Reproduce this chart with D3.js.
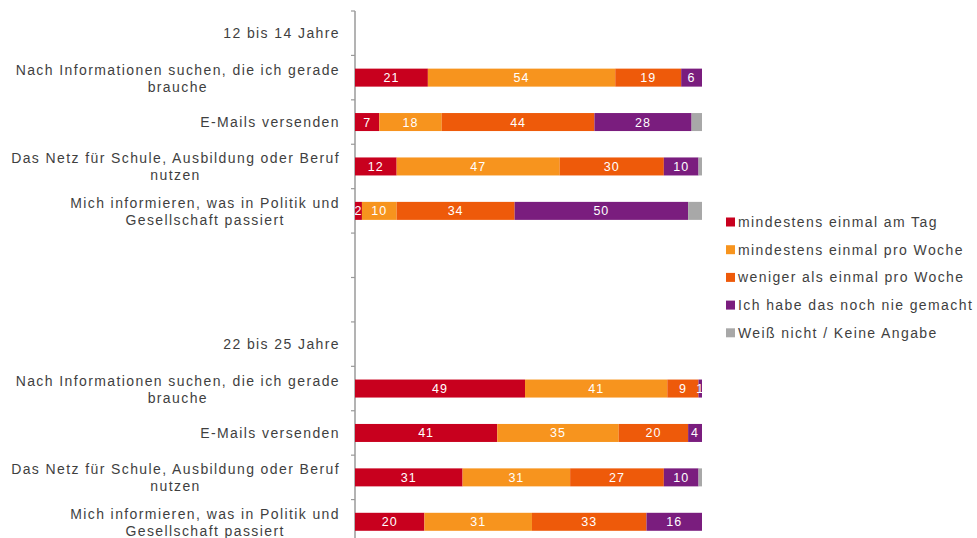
<!DOCTYPE html>
<html><head><meta charset="utf-8">
<script src="https://cdn.jsdelivr.net/npm/d3@7"></script>
<style>
body{margin:0;background:#fff;}
text{font-family:"Liberation Sans",Arial,sans-serif;}
</style></head>
<body>
<svg id="chart" width="977" height="538"></svg>
<script>
// ---- data ----
const categories = [
  "12 bis 14 Jahre",
  "Nach Informationen suchen, die ich gerade|brauche",
  "E-Mails versenden",
  "Das Netz für Schule, Ausbildung oder Beruf|nutzen",
  "Mich informieren, was in Politik und|Gesellschaft passiert",
  "",
  "",
  "22 bis 25 Jahre",
  "Nach Informationen suchen, die ich gerade|brauche",
  "E-Mails versenden",
  "Das Netz für Schule, Ausbildung oder Beruf|nutzen",
  "Mich informieren, was in Politik und|Gesellschaft passiert"
];
const seriesNames = [
  "mindestens einmal am Tag",
  "mindestens einmal pro Woche",
  "weniger als einmal pro Woche",
  "Ich habe das noch nie gemacht",
  "Weiß nicht / Keine Angabe"
];
const seriesColors = ["#c8001e", "#f7941e", "#ee5a0a", "#7a1d7e", "#a8a8a8"];
const taeglich   = [null, 21, 7, 12, 2, null, null, null, 49, 41, 31, 20];
const woechentl  = [null, 54, 18, 47, 10, null, null, null, 41, 35, 31, 31];
const seltener   = [null, 19, 44, 30, 34, null, null, null, 9, 20, 27, 33];
const nie        = [null, 6, 28, 10, 50, null, null, null, 1, 4, 10, 16];
const weissNicht = [null, 0, 3, 1, 4, null, null, null, 0, 0, 1, 0];
const series = [taeglich, woechentl, seltener, nie, weissNicht];
const labelledSeries = [0, 1, 2, 3];

// ---- layout ----
const svg = d3.select("#chart");
const slots = categories.map((c, i) => i);
const y = d3.scaleBand().domain(slots).range([11, 544]).padding(0);
const x = d3.scaleLinear().domain([0, 100]).range([355, 702]);
const barH = 18;
const textColor = "#3f3f3f";

// axis
const axisG = svg.append("g");
axisG.append("line")
  .attr("x1", x(0)).attr("x2", x(0))
  .attr("y1", y.range()[0]).attr("y2", y.range()[1])
  .attr("stroke", "#9a9a9a").attr("stroke-width", 1.5);
const tickYs = slots.map(s => y(s)).concat([y.range()[1]]);
axisG.selectAll("line.tick").data(tickYs).join("line")
  .attr("class", "tick")
  .attr("x1", x(0) - 4).attr("x2", x(0))
  .attr("y1", d => d).attr("y2", d => d)
  .attr("stroke", "#9a9a9a").attr("stroke-width", 1.2);

// category labels
const labelRight = 340;
const lab = svg.append("g");
categories.forEach((c, i) => {
  if (!c) return;
  const lines = c.split("|");
  const cy = y(i) + y.bandwidth() / 2;
  const g = lab.append("g");
  const texts = lines.map((l, k) => g.append("text")
    .text(l)
    .attr("font-size", 14)
    .attr("letter-spacing", 1.4)
    .attr("fill", textColor)
    .attr("dominant-baseline", "central")
    .attr("text-anchor", "middle")
    .attr("y", lines.length === 1 ? cy : cy - 8 + k * 17));
  const w = d3.max(texts, t => t.node().getComputedTextLength());
  texts.forEach(t => t.attr("x", labelRight - w / 2));
});

// stacked bars
const bars = svg.append("g");
slots.forEach(i => {
  if (taeglich[i] == null) return;
  let acc = 0;
  series.forEach((s, k) => {
    const v = s[i];
    const x0 = acc;
    acc += v;
    if (!v) return;
    const by = y(i) + (y.bandwidth() - barH) / 2;
    bars.append("rect")
      .attr("x", x(x0)).attr("width", x(acc) - x(x0))
      .attr("y", by).attr("height", barH)
      .attr("fill", seriesColors[k]);
    if (labelledSeries.includes(k)) {
      bars.append("text")
        .attr("x", (x(x0) + x(acc)) / 2)
        .attr("y", by + barH / 2 + 0.5)
        .attr("text-anchor", "middle")
        .attr("dominant-baseline", "central")
        .attr("font-size", 12.5)
        .attr("letter-spacing", 1)
        .attr("fill", "#fff")
        .text(v);
    }
  });
});

// legend
const leg = svg.append("g");
seriesNames.forEach((n, k) => {
  const ly = 222 + k * 27.7;
  leg.append("rect").attr("x", 726).attr("y", ly - 4.5).attr("width", 9).attr("height", 9)
    .attr("fill", seriesColors[k]);
  leg.append("text").attr("x", 738).attr("y", ly)
    .attr("dominant-baseline", "central")
    .attr("font-size", 14).attr("letter-spacing", 1.4)
    .attr("fill", textColor).text(n);
});
</script>
</body></html>
